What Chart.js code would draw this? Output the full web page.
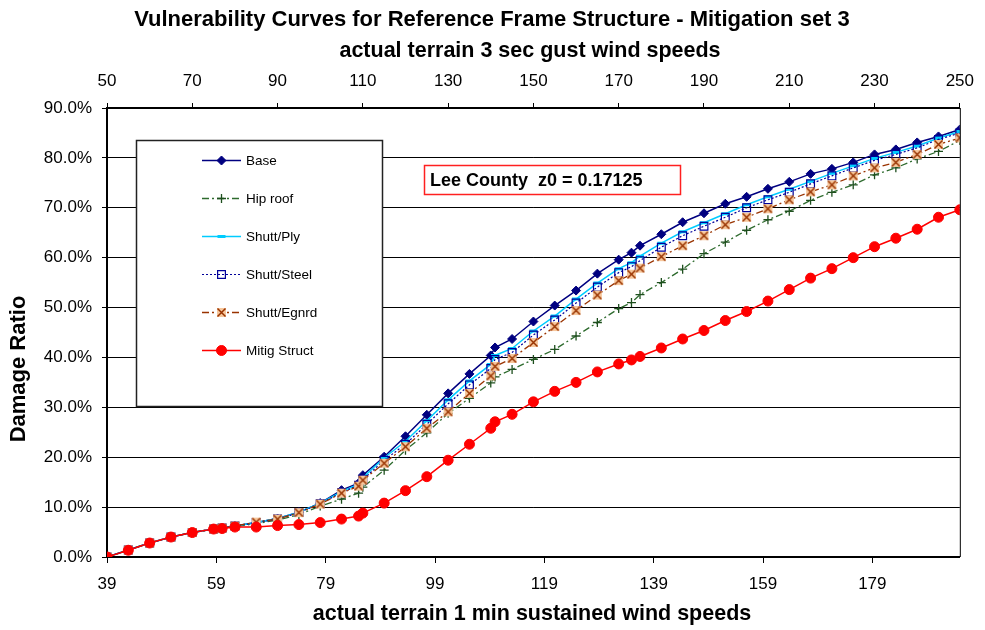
<!DOCTYPE html>
<html>
<head>
<meta charset="utf-8">
<title>Vulnerability Curves</title>
<script src="https://cdn.jsdelivr.net/npm/chart.js@4.4.1/dist/chart.umd.min.js"></script>
<style>
  html, body { margin: 0; padding: 0; background: #fff; }
  #wrap { width: 985px; height: 630px; }
</style>
</head>
<body>
<div id="wrap"><canvas id="chart" width="985" height="630"></canvas></div>
<script>
// 3 sec gust speeds (top axis), one point per reading
const gust = [50, 55, 60, 65, 70, 75, 77, 80, 85, 90, 95, 100, 105, 109, 110, 115, 120, 125, 130, 135, 140, 141,
    145, 150, 155, 160, 165, 170, 173, 175, 180, 185, 190, 195, 200, 205, 210, 215, 220, 225, 230, 235, 240, 245, 250];

// damage ratio in %
const base = [0, 1.4, 2.8, 4.0, 4.9, 5.6, 5.8, 6.2, 6.9, 7.7, 9.0, 10.8, 13.4, 14.8, 16.4, 20.1, 24.2, 28.5, 32.8, 36.7, 40.4, 42.0,
    43.7, 47.2, 50.4, 53.4, 56.8, 59.6, 61.0, 62.4, 64.7, 67.1, 68.9, 70.8, 72.2, 73.8, 75.2, 76.8, 77.8, 79.1, 80.7, 81.7, 83.1, 84.3, 85.7];
const hipRoof = [0, 1.4, 2.8, 4.0, 4.9, 5.6, 5.8, 6.1, 6.7, 7.4, 8.5, 10.2, 11.6, 12.8, 14.0, 17.4, 21.4, 24.9, 28.8, 31.8, 34.9, 36.1,
    37.6, 39.6, 41.6, 44.3, 47.0, 49.8, 51.0, 52.6, 55.0, 57.7, 60.8, 63.1, 65.5, 67.6, 69.3, 71.5, 73.1, 74.6, 76.6, 78.0, 79.8, 81.3, 83.5];
const shuttPly = [0, 1.4, 2.8, 4.0, 4.9, 5.6, 5.8, 6.2, 6.9, 7.7, 9.0, 10.8, 13.1, 14.6, 15.9, 19.9, 23.2, 27.3, 31.5, 35.3, 38.6, 40.4,
    41.8, 45.3, 48.3, 51.7, 54.9, 57.8, 59.0, 60.3, 62.9, 65.2, 67.0, 68.8, 70.6, 72.2, 73.7, 75.3, 76.9, 78.4, 79.9, 81.1, 82.4, 84.0, 85.3];
const shuttSteel = [0, 1.4, 2.8, 4.0, 4.9, 5.6, 5.8, 6.2, 6.9, 7.6, 8.9, 10.7, 12.9, 14.4, 15.5, 19.4, 22.6, 26.6, 30.7, 34.5, 37.8, 39.6,
    41.0, 44.5, 47.5, 50.9, 54.1, 57.0, 58.2, 59.4, 62.1, 64.4, 66.3, 68.1, 70.0, 71.6, 73.1, 74.8, 76.4, 78.0, 79.5, 80.7, 82.0, 83.7, 85.0];
const shuttEgnrd = [0, 1.4, 2.8, 4.0, 4.9, 5.6, 5.8, 6.2, 7.0, 7.6, 8.9, 10.6, 12.8, 14.2, 15.4, 18.8, 22.1, 25.8, 29.1, 32.8, 36.3, 38.2,
    39.8, 43.0, 46.2, 49.4, 52.5, 55.4, 56.7, 57.9, 60.2, 62.4, 64.4, 66.6, 68.1, 69.8, 71.6, 73.2, 74.6, 76.4, 78.0, 79.1, 80.7, 82.7, 84.0];
const mitigStruct = [0, 1.35, 2.8, 4.0, 4.9, 5.6, 5.7, 6.0, 6.0, 6.3, 6.5, 6.9, 7.6, 8.2, 8.8, 10.8, 13.3, 16.1, 19.4, 22.6, 25.8, 27.1,
    28.6, 31.1, 33.2, 35.0, 37.1, 38.7, 39.5, 40.2, 41.9, 43.7, 45.4, 47.4, 49.2, 51.3, 53.6, 55.9, 57.8, 60.0, 62.2, 63.9, 65.7, 68.1, 69.6];

const gustTicks = [50, 70, 90, 110, 130, 150, 170, 190, 210, 230, 250];
const sustainedTicks = [39, 59, 79, 99, 119, 139, 159, 179];
const seriesNames = ['Base', 'Hip roof', 'Shutt/Ply', 'Shutt/Steel', 'Shutt/Egnrd', 'Mitig Struct'];

const FONT = "'Liberation Sans', Arial, sans-serif";

// X marker with the pale orange fill used for Shutt/Egnrd
function xMarker() {
    const c = document.createElement('canvas');
    c.width = 11; c.height = 11;
    const g = c.getContext('2d');
    g.fillStyle = '#F7C79C';
    g.fillRect(1, 1, 9, 9);
    g.strokeStyle = '#993300';
    g.lineWidth = 1.5;
    g.beginPath();
    g.moveTo(1.5, 1.5); g.lineTo(9.5, 9.5);
    g.moveTo(9.5, 1.5); g.lineTo(1.5, 9.5);
    g.stroke();
    return c;
}

const pts = arr => arr.map((v, i) => ({ x: gust[i], y: v }));

const datasets = [
    {
        label: seriesNames[0], data: pts(base), order: 5,
        borderColor: '#000080', borderWidth: 1.5,
        pointStyle: 'rectRot', pointRadius: 4.5, pointBackgroundColor: '#000080', pointBorderColor: '#000080', pointBorderWidth: 1,
    },
    {
        label: seriesNames[1], data: pts(hipRoof), order: 4,
        borderColor: '#2E6B2E', borderWidth: 1.3, borderDash: [7, 3, 2, 3],
        pointStyle: 'cross', pointRadius: 4.5, pointBackgroundColor: '#1E4F1E', pointBorderColor: '#1E4F1E', pointBorderWidth: 1.3,
    },
    {
        label: seriesNames[2], data: pts(shuttPly), order: 3,
        borderColor: '#00CCFF', borderWidth: 1.5,
        pointStyle: 'line', pointRadius: 4, pointBackgroundColor: '#00CCFF', pointBorderColor: '#00CCFF', pointBorderWidth: 3,
    },
    {
        label: seriesNames[3], data: pts(shuttSteel), order: 2,
        borderColor: '#000099', borderWidth: 1.2, borderDash: [2, 2],
        pointStyle: 'rect', pointRadius: 5.5, pointBackgroundColor: 'rgba(255,255,255,0)', pointBorderColor: '#000099', pointBorderWidth: 1.2,
    },
    {
        label: seriesNames[4], data: pts(shuttEgnrd), order: 1,
        borderColor: '#993300', borderWidth: 1.3, borderDash: [7, 3, 2, 3],
        pointStyle: xMarker(), pointRadius: 5, pointBackgroundColor: '#993300', pointBorderColor: '#993300', pointBorderWidth: 1,
    },
    {
        label: seriesNames[5], data: pts(mitigStruct), order: 0,
        borderColor: '#FF0000', borderWidth: 1.5,
        pointStyle: 'circle', pointRadius: 5, pointBackgroundColor: '#FF0000', pointBorderColor: '#FF0000', pointBorderWidth: 1,
    },
];
datasets.forEach(d => { d.xAxisID = 'xTop'; d.yAxisID = 'y'; d.tension = 0; d.fill = false; d.pointHoverRadius = d.pointRadius; });

function drawMarker(ctx, ds, x, y) {
    ctx.save();
    ctx.setLineDash([]);
    ctx.fillStyle = ds.pointBackgroundColor;
    ctx.strokeStyle = ds.pointBorderColor;
    ctx.lineWidth = ds.pointBorderWidth;
    Chart.helpers.drawPoint(ctx, {
        pointStyle: ds.pointStyle, radius: ds.pointRadius, rotation: 0, borderWidth: ds.pointBorderWidth,
    }, x, y);
    ctx.restore();
}

const decorations = {
    id: 'decorations',
    afterDraw(chart) {
        const ctx = chart.ctx;
        const a = chart.chartArea;
        ctx.save();

        // right frame edge
        ctx.strokeStyle = '#000';
        ctx.lineWidth = 1;
        ctx.beginPath();
        ctx.moveTo(a.right + 0.5, a.top);
        ctx.lineTo(a.right + 0.5, a.bottom);
        ctx.stroke();

        // titles
        ctx.fillStyle = '#000';
        ctx.textAlign = 'center';
        ctx.textBaseline = 'middle';
        ctx.font = 'bold 22px ' + FONT;
        ctx.fillText('Vulnerability Curves for Reference Frame Structure - Mitigation set 3', 492, 20);
        ctx.font = 'bold 21.5px ' + FONT;
        ctx.fillText('actual terrain 3 sec gust wind speeds', 530, 51);
        ctx.fillText('actual terrain 1 min sustained wind speeds', 532, 614);
        ctx.save();
        ctx.translate(19, 369);
        ctx.rotate(-Math.PI / 2);
        ctx.font = 'bold 22px ' + FONT;
        ctx.fillText('Damage Ratio', 0, 0);
        ctx.restore();

        // note box
        ctx.fillStyle = '#fff';
        ctx.fillRect(424.5, 165.5, 256, 29);
        ctx.strokeStyle = '#FF2020';
        ctx.lineWidth = 1.5;
        ctx.strokeRect(424.5, 165.5, 256, 29);
        ctx.fillStyle = '#000';
        ctx.textAlign = 'left';
        ctx.font = 'bold 18px ' + FONT;
        ctx.fillText('Lee County  z0 = 0.17125', 430, 181);

        // legend box
        ctx.fillStyle = '#fff';
        ctx.fillRect(136.5, 140.5, 246, 266);
        ctx.strokeStyle = '#222';
        ctx.lineWidth = 1.5;
        ctx.strokeRect(136.5, 140.5, 246, 266);
        ctx.font = '13.5px ' + FONT;
        chart.data.datasets.forEach((ds, i) => {
            const y = 160 + i * 38;
            ctx.save();
            ctx.strokeStyle = ds.borderColor;
            ctx.lineWidth = ds.borderWidth;
            ctx.setLineDash(ds.borderDash || []);
            ctx.beginPath();
            ctx.moveTo(202, y + 0.5);
            ctx.lineTo(241, y + 0.5);
            ctx.stroke();
            ctx.restore();
            drawMarker(ctx, ds, 221.5, y + 0.5);
            ctx.fillStyle = '#000';
            ctx.fillText(ds.label, 246, y + 1);
        });
        ctx.restore();
    },
};

new Chart(document.getElementById('chart'), {
    type: 'line',
    data: { datasets },
    options: {
        responsive: false,
        animation: false,
        devicePixelRatio: 1,
        layout: { padding: { left: 0, right: 19, top: 0, bottom: 0 } },
        plugins: {
            legend: { display: false },
            title: { display: false },
            tooltip: { enabled: false },
        },
        scales: {
            xTop: {
                type: 'linear', position: 'top', min: 50, max: 250,
                afterBuildTicks: s => { s.ticks = gustTicks.map(v => ({ value: v })); },
                afterFit: s => { s.height = 108; },
                ticks: { color: '#000', font: { family: FONT, size: 17 }, padding: 11, maxRotation: 0 },
                grid: { drawOnChartArea: false, drawTicks: true, tickLength: 5, color: '#000' },
                border: { color: '#000', width: 2 },
            },
            x: {
                type: 'linear', position: 'bottom', min: 39, max: 195,
                afterBuildTicks: s => { s.ticks = sustainedTicks.map(v => ({ value: v })); },
                afterFit: s => { s.height = 73; },
                ticks: { color: '#000', font: { family: FONT, size: 17 }, padding: 11, maxRotation: 0 },
                grid: { drawOnChartArea: false, drawTicks: true, tickLength: 6, color: '#000' },
                border: { color: '#000', width: 2 },
            },
            y: {
                type: 'linear', position: 'left', min: 0, max: 90,
                afterFit: s => { s.width = 107; },
                ticks: {
                    stepSize: 10, color: '#000', font: { family: FONT, size: 17 }, padding: 10,
                    callback: v => v.toFixed(1) + '%',
                },
                grid: { color: '#000', lineWidth: 1, drawTicks: true, tickLength: 5 },
                border: { color: '#000', width: 2 },
            },
        },
    },
    plugins: [decorations],
});
</script>
</body>
</html>
